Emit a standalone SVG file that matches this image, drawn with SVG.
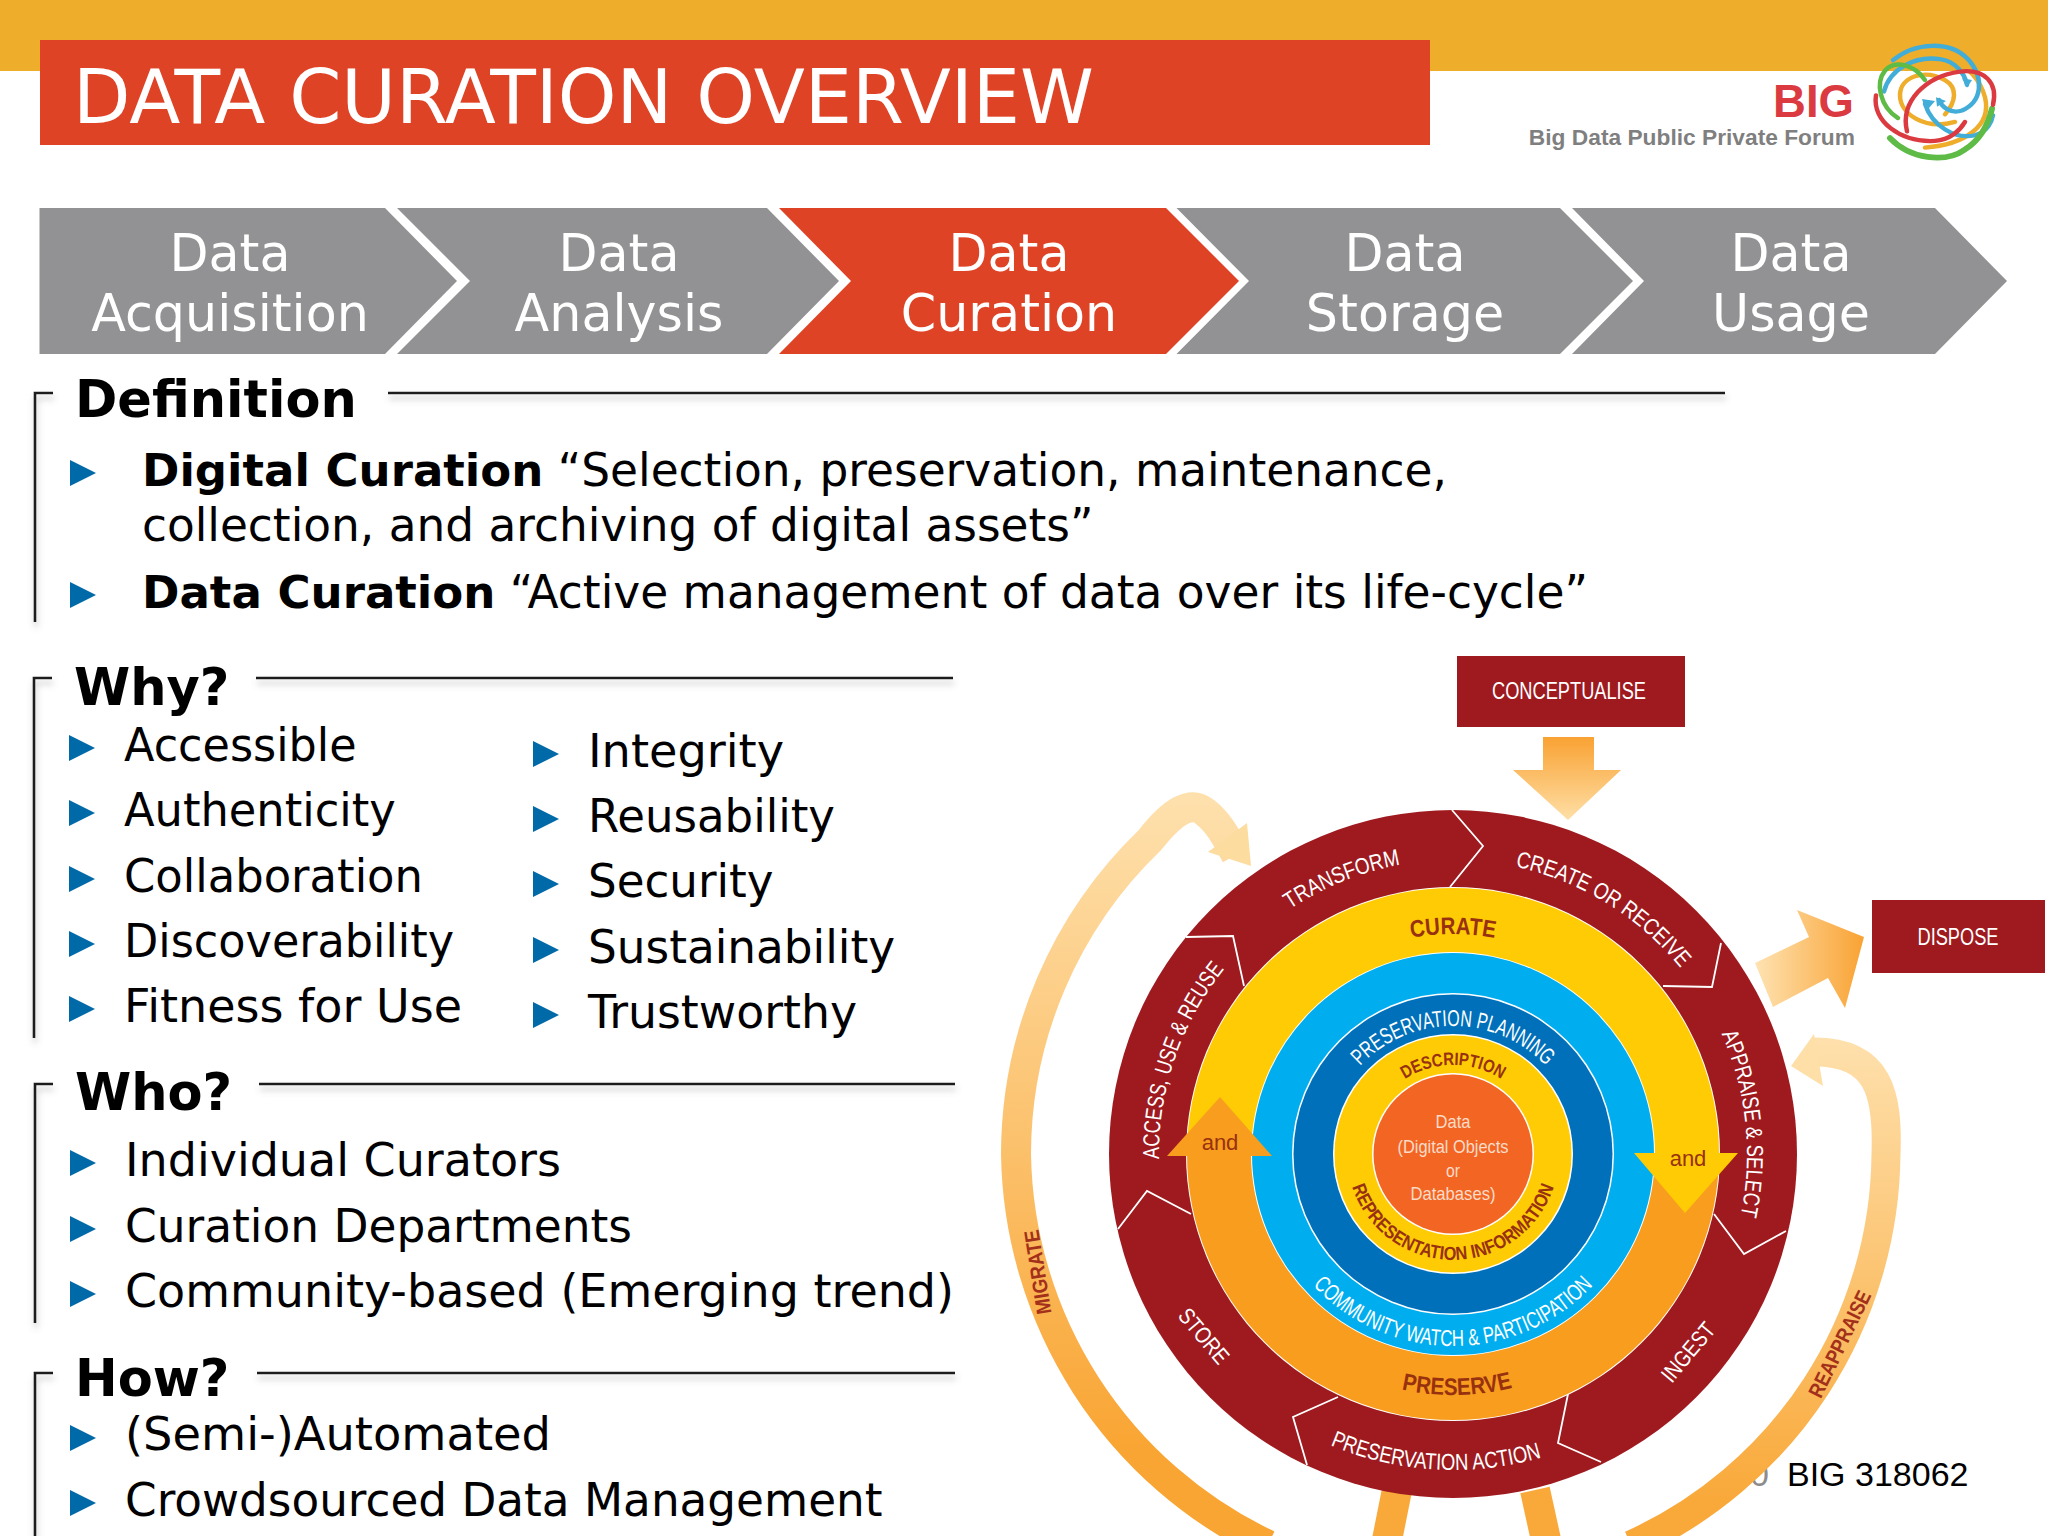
<svg xmlns="http://www.w3.org/2000/svg" width="2048" height="1536" viewBox="0 0 2048 1536">
<style>
.dv{font-family:"DejaVu Sans",Verdana,sans-serif}
.chev{font-family:"DejaVu Sans",sans-serif;font-size:50.7px;fill:#fff;text-anchor:middle}
.head{font-family:"DejaVu Sans",sans-serif;font-size:51px;font-weight:700;fill:#000}
.item{font-family:"DejaVu Sans",sans-serif;font-size:45.4px;fill:#000}
.gray{fill:#929194}.red{fill:#DF4326}
.frame{fill:none;stroke:#1a1a1a;stroke-width:2.6;filter:url(#sh)}
.bul{fill:#0069A8}
.nar{font-family:"Liberation Sans",Arial,sans-serif}
.w{fill:#fff;font-size:23px;text-anchor:middle}
.dk{fill:#97310F;font-weight:700;text-anchor:middle}
.sep{fill:none;stroke:#fff;stroke-width:1.8}
.box{fill:#9E1A1F}
.swirl{fill:none;stroke-linecap:round;stroke-width:4.5}
</style>
<defs>
<filter id="sh" filterUnits="userSpaceOnUse" x="0" y="0" width="2048" height="1536"><feDropShadow dx="1" dy="5" stdDeviation="3" flood-color="#777" flood-opacity=".45"/></filter>
<polygon id="b" points="0,-13 26,0 0,13"/>
<linearGradient id="gD" gradientUnits="userSpaceOnUse" x1="0" y1="737" x2="0" y2="820"><stop offset="0" stop-color="#F9A233"/><stop offset="1" stop-color="#FEDFA6"/></linearGradient>
<linearGradient id="gR" gradientUnits="userSpaceOnUse" x1="1755" y1="0" x2="1864" y2="0"><stop offset="0" stop-color="#FEE3B2"/><stop offset="1" stop-color="#F9A233"/></linearGradient>
<linearGradient id="gA" gradientUnits="userSpaceOnUse" x1="0" y1="1040" x2="0" y2="1500"><stop offset="0" stop-color="#FEE0AC"/><stop offset="1" stop-color="#F9A93A"/></linearGradient>
<linearGradient id="gM" gradientUnits="userSpaceOnUse" x1="0" y1="800" x2="0" y2="1450"><stop offset="0" stop-color="#FEE0AC"/><stop offset="1" stop-color="#F9A533"/></linearGradient>
<path id="t294" d="M1159,1154A294,294 0 0 1 1747,1154"/>
<path id="b316" d="M1137,1154A316,316 0 0 0 1769,1154"/>
<path id="t220" d="M1233,1154A220,220 0 0 1 1673,1154"/>
<path id="b241" d="M1212,1154A241,241 0 0 0 1694,1154"/>
<path id="b192" d="M1261,1154A192,192 0 0 0 1645,1154"/>
<path id="t128" d="M1325,1154A128,128 0 0 1 1581,1154"/>
<path id="b106" d="M1347,1154A106,106 0 0 0 1559,1154"/>
<path id="t89" d="M1364,1154A89,89 0 0 1 1542,1154"/>
</defs>
<rect width="2048" height="1536" fill="#fff"/>
<rect id="topband" x="0" y="0" width="2048" height="71" fill="#EEAD2A"/>
<g id="title"><rect class="red" x="40" y="40" width="1390" height="105"/><text class="dv" x="73" y="123" font-size="74.7" fill="#fff">DATA CURATION OVERVIEW</text></g>
<g id="logo">
<text x="1854" y="117" font-family="Liberation Sans,Arial,sans-serif" font-weight="700" font-size="45.5" fill="#DB3A40" text-anchor="end">BIG</text>
<text x="1855" y="145" font-family="Liberation Sans,Arial,sans-serif" font-weight="700" font-size="22.75" fill="#7F7F7F" text-anchor="end">Big Data Public Private Forum</text>
<g class="swirl" transform="translate(0 2.2) scale(1 .95)">
<path stroke="#EEAD2A" d="M1895,56C1935,48 1975,62 1985,100C1992,130 1965,150 1925,153"/>
<path stroke="#EEAD2A" d="M1955,126C1925,135 1900,118 1900,98C1900,78 1925,70 1945,82C1958,90 1956,105 1945,118"/>
<path stroke="#41ADD8" d="M1893,61C1915,42 1950,40 1968,60C1985,80 1982,105 1962,114C1950,118 1942,110 1939,103"/>
<path stroke="#41ADD8" d="M1884,94C1890,70 1915,56 1940,60C1955,62 1965,75 1967,87"/>
<path stroke="#41ADD8" d="M1925,107C1932,130 1955,145 1975,140C1988,136 1992,125 1993,119"/>
<path stroke="#5DBB46" d="M1898,122C1880,110 1875,85 1885,72C1895,60 1915,66 1925,82"/>
<path stroke="#5DBB46" stroke-width="6" d="M1890,143C1910,165 1945,170 1965,155C1980,145 1988,130 1992,112"/>
<path stroke="#DB3A40" d="M1907,136C1900,105 1925,78 1960,73C1985,70 1998,85 1993,108"/>
<path stroke="#DB3A40" d="M1876,98C1872,125 1900,148 1935,146C1950,145 1960,135 1965,126"/>
<polygon fill="#41ADD8" stroke="none" points="1922,102 1935,104 1926,115"/><polygon fill="#41ADD8" stroke="none" points="1936,100 1946,104 1937,110"/><polygon fill="#41ADD8" stroke="none" points="1962,80 1972,82 1967,90"/>
</g></g>
<g id="chevrons">
<g id="acquisition"><polygon class="gray" points="39.5,208 385,208 457,281 385,354 39.5,354"/><text class="chev" x="230" y="271">Data</text><text class="chev" x="230" y="331">Acquisition</text></g>
<g id="analysis"><polygon class="gray" points="397,208 767,208 839,281 767,354 397,354 470,281"/><text class="chev" x="619" y="271">Data</text><text class="chev" x="619" y="331">Analysis</text></g>
<g id="curation"><polygon class="red" points="779,208 1166,208 1239,281 1166,354 779,354 851,281"/><text class="chev" x="1009" y="271">Data</text><text class="chev" x="1009" y="331">Curation</text></g>
<g id="storage"><polygon class="gray" points="1176.5,208 1560,208 1633,281 1560,354 1176.5,354 1249,281"/><text class="chev" x="1405" y="271">Data</text><text class="chev" x="1405" y="331">Storage</text></g>
<g id="usage"><polygon class="gray" points="1572,208 1935,208 2007,281 1935,354 1572,354 1644,281"/><text class="chev" x="1791" y="271">Data</text><text class="chev" x="1791" y="331">Usage</text></g>
</g>
<g id="definition">
<path class="frame" d="M53,393H35V622M388,393H1725"/>
<text class="head" x="75" y="417">Definition</text>
<use href="#b" class="bul" x="70" y="473"/><use href="#b" class="bul" x="70" y="595"/>
<text class="item" x="142" y="486" textLength="1305" lengthAdjust="spacingAndGlyphs"><tspan font-weight="700" font-size="45">Digital Curation</tspan> “Selection, preservation, maintenance,</text>
<text class="item" x="142" y="541">collection, and archiving of digital assets”</text>
<text class="item" x="142" y="608" textLength="1446" lengthAdjust="spacingAndGlyphs"><tspan font-weight="700" font-size="45">Data Curation</tspan> “Active management of data over its life-cycle”</text>
</g>
<g id="why">
<path class="frame" d="M52,678H34V1038M256,678H953"/>
<text class="head" x="74" y="705">Why?</text>
<use href="#b" class="bul" x="69" y="748"/><use href="#b" class="bul" x="69" y="813"/><use href="#b" class="bul" x="69" y="879"/><use href="#b" class="bul" x="69" y="944"/><use href="#b" class="bul" x="69" y="1009"/>
<text class="item" x="124" y="761" textLength="232.5" lengthAdjust="spacingAndGlyphs">Accessible</text><text class="item" x="124" y="826" textLength="271.7" lengthAdjust="spacingAndGlyphs">Authenticity</text><text class="item" x="124" y="892" textLength="299" lengthAdjust="spacingAndGlyphs">Collaboration</text><text class="item" x="124" y="957" textLength="330" lengthAdjust="spacingAndGlyphs">Discoverability</text><text class="item" x="124" y="1022" textLength="338" lengthAdjust="spacingAndGlyphs">Fitness for Use</text>
<use href="#b" class="bul" x="533" y="754"/><use href="#b" class="bul" x="533" y="819"/><use href="#b" class="bul" x="533" y="884"/><use href="#b" class="bul" x="533" y="950"/><use href="#b" class="bul" x="533" y="1015"/>
<text class="item" x="588" y="767" textLength="196" lengthAdjust="spacingAndGlyphs">Integrity</text><text class="item" x="588" y="832" textLength="247" lengthAdjust="spacingAndGlyphs">Reusability</text><text class="item" x="588" y="897" textLength="185.5" lengthAdjust="spacingAndGlyphs">Security</text><text class="item" x="588" y="963" textLength="307" lengthAdjust="spacingAndGlyphs">Sustainability</text><text class="item" x="588" y="1028" textLength="269" lengthAdjust="spacingAndGlyphs">Trustworthy</text>
</g>
<g id="who">
<path class="frame" d="M53,1084H35V1323M259,1084H955"/>
<text class="head" x="75" y="1110">Who?</text>
<use href="#b" class="bul" x="70" y="1163"/><use href="#b" class="bul" x="70" y="1229"/><use href="#b" class="bul" x="70" y="1294"/>
<text class="item" x="125" y="1176" textLength="436" lengthAdjust="spacingAndGlyphs">Individual Curators</text><text class="item" x="125" y="1242" textLength="507" lengthAdjust="spacingAndGlyphs">Curation Departments</text><text class="item" x="125" y="1307" textLength="829" lengthAdjust="spacingAndGlyphs">Community-based (Emerging trend)</text>
</g>
<g id="how">
<path class="frame" d="M53,1373H35V1540M257,1373H955"/>
<text class="head" x="75" y="1396">How?</text>
<use href="#b" class="bul" x="70" y="1438"/><use href="#b" class="bul" x="70" y="1503"/>
<text class="item" x="125" y="1450" textLength="426" lengthAdjust="spacingAndGlyphs">(Semi-)Automated</text><text class="item" x="125" y="1516" textLength="757.5" lengthAdjust="spacingAndGlyphs">Crowdsourced Data Management</text>
</g>
<text id="hidden-year" x="1750" y="1486" font-family="Liberation Sans,Arial,sans-serif" font-size="34" fill="#8c8c8c">0</text>
<g id="connectors">
<polygon id="conceptualise-arrow" fill="url(#gD)" points="1543,737 1594,737 1594,770 1621,770 1568,820 1513,770 1543,770"/>
<polygon id="dispose-arrow" fill="url(#gR)" points="1755,963 1809,937 1797,910 1864,937 1845,1008 1828,978 1773,1007"/>
<g fill="none">
<path id="reappraise-arrow" stroke="url(#gA)" stroke-width="29" d="M1631,1545A433,433 0 0 0 1886,1154C1888,1095 1880,1051 1812,1052"/>
<path id="migrate-arrow" stroke="url(#gM)" stroke-width="30" d="M1268,1545A440,440 0 0 1 1016,1154A437,437 0 0 1 1150,840C1172,812 1190,800 1205,812C1218,822 1225,835 1236,855"/>
<path id="stub-left" stroke="#F9A93A" stroke-width="30" d="M1397,1490L1387,1540"/>
<path id="stub-right" stroke="#F9A93A" stroke-width="30" d="M1535,1490L1546,1540"/>
</g>
<polygon fill="#FEDFA8" points="1814,1034 1791,1066 1823,1086"/>
<polygon fill="#FDDCA0" points="1247,823 1251,866 1208,852"/>
</g>
<g id="lifecycle">
<circle cx="1453" cy="1154" r="344" fill="#9E1A1F"/>
<g class="sep">
<path d="M1452,810L1483,846L1450,887"/><path d="M1721,943L1712,987L1663,986"/><path d="M1786,1231L1744,1254L1714,1214"/><path d="M1601,1462L1558,1443L1568,1394"/><path d="M1307,1465L1293,1417L1338,1397"/><path d="M1118,1229L1147,1191L1191,1214"/><path d="M1186,937L1233,936L1244,986"/>
</g>
<g id="curate-preserve">
<circle cx="1453" cy="1154" r="267" fill="#fff"/>
<path fill="#FFCB05" d="M1187,1154A266,266 0 0 1 1719,1154Z"/>
<path fill="#F99D1E" d="M1187,1154A266,266 0 0 0 1719,1154Z"/>
</g>
<circle cx="1453" cy="1154" r="202" fill="#fff"/><circle cx="1453" cy="1154" r="201" fill="#00AEEF"/>
<circle cx="1453" cy="1154" r="161" fill="#fff"/><circle cx="1453" cy="1154" r="159.5" fill="#0070BA"/>
<circle cx="1453" cy="1154" r="120" fill="#fff"/><circle cx="1453" cy="1154" r="118.5" fill="#FFCB05"/>
<circle cx="1453" cy="1154" r="81" fill="#fff"/>
<g id="data"><circle cx="1453" cy="1154" r="79.5" fill="#F36523"/>
<g class="nar" font-size="19" fill="#FADCC8" text-anchor="middle"><text x="1453" y="1128" textLength="35" lengthAdjust="spacingAndGlyphs">Data</text><text x="1453" y="1153" textLength="111" lengthAdjust="spacingAndGlyphs">(Digital Objects</text><text x="1453" y="1177" textLength="14" lengthAdjust="spacingAndGlyphs">or</text><text x="1453" y="1200" textLength="85" lengthAdjust="spacingAndGlyphs">Databases)</text></g></g>
<polygon id="head-left" fill="#F99D1E" points="1220,1097 1272,1156 1167,1156"/>
<polygon id="head-right" fill="#FFCB05" points="1634,1153 1738,1153 1685,1213"/>
<g class="nar" font-size="23">
<text class="w" transform="rotate(-22 1453 1154)"><textPath href="#t294" startOffset="50%" textLength="120" lengthAdjust="spacingAndGlyphs">TRANSFORM</textPath></text>
<text class="w" transform="rotate(31.5 1453 1154)"><textPath href="#t294" startOffset="50%" textLength="198" lengthAdjust="spacingAndGlyphs">CREATE OR RECEIVE</textPath></text>
<text class="w" transform="rotate(84 1453 1154)"><textPath href="#t294" startOffset="50%" textLength="186" lengthAdjust="spacingAndGlyphs">APPRAISE &amp; SELECT</textPath></text>
<text class="w" transform="rotate(-71 1453 1154)"><textPath href="#t294" startOffset="50%" textLength="205" lengthAdjust="spacingAndGlyphs">ACCESS, USE &amp; REUSE</textPath></text>
<text class="w" transform="rotate(3.3 1453 1154)"><textPath href="#b316" startOffset="50%" textLength="216" lengthAdjust="spacingAndGlyphs">PRESERVATION ACTION</textPath></text>
<text class="w" transform="translate(1688 1352) rotate(-50)" y="8" textLength="70" lengthAdjust="spacingAndGlyphs">INGEST</text>
<text class="w" transform="translate(1204 1336) rotate(50)" y="8" textLength="65" lengthAdjust="spacingAndGlyphs">STORE</text>
<text class="dk" font-size="24"><textPath href="#t220" startOffset="50%" textLength="84" lengthAdjust="spacingAndGlyphs">CURATE</textPath></text>
<text class="dk" font-size="24" transform="rotate(-1 1453 1154)"><textPath href="#b241" startOffset="50%" textLength="112" lengthAdjust="spacingAndGlyphs">PRESERVE</textPath></text>
<text class="w" font-size="20"><textPath href="#b192" startOffset="50%" textLength="314" lengthAdjust="spacingAndGlyphs">COMMUNITY WATCH &amp; PARTICIPATION</textPath></text>
<text class="w" font-size="19.5"><textPath href="#t128" startOffset="50%" textLength="208" lengthAdjust="spacingAndGlyphs">PRESERVATION PLANNING</textPath></text>
<text class="dk" font-size="18"><textPath href="#t89" startOffset="50%" textLength="102" lengthAdjust="spacingAndGlyphs">DESCRIPTION</textPath></text>
<text class="dk" font-size="19"><textPath href="#b106" startOffset="50%" textLength="266" lengthAdjust="spacingAndGlyphs">REPRESENTATION INFORMATION</textPath></text>
</g>
<g font-family="Liberation Sans,Arial,sans-serif" font-size="22" fill="#97310F" text-anchor="middle"><text x="1220" y="1150">and</text><text x="1688" y="1166">and</text></g>
</g>
<g class="nar" font-size="21" font-weight="700" fill="#A3301A" text-anchor="middle">
<text transform="translate(1038 1272) rotate(-99)" y="7" textLength="85" lengthAdjust="spacingAndGlyphs">MIGRATE</text>
<text transform="translate(1840 1344) rotate(-64)" y="7" textLength="116" lengthAdjust="spacingAndGlyphs">REAPPRAISE</text>
</g>
<g id="conceptualise"><rect class="box" x="1457" y="656" width="228" height="71"/><text class="nar" x="1569" y="699" font-size="23" fill="#fff" text-anchor="middle" textLength="154" lengthAdjust="spacingAndGlyphs">CONCEPTUALISE</text></g>
<g id="dispose"><rect class="box" x="1872" y="900" width="173" height="73"/><text class="nar" x="1958" y="945" font-size="23" fill="#fff" text-anchor="middle" textLength="81" lengthAdjust="spacingAndGlyphs">DISPOSE</text></g>
<text id="grant" x="1787" y="1486" font-family="Liberation Sans,Arial,sans-serif" font-size="34" fill="#000">BIG 318062</text>
</svg>
